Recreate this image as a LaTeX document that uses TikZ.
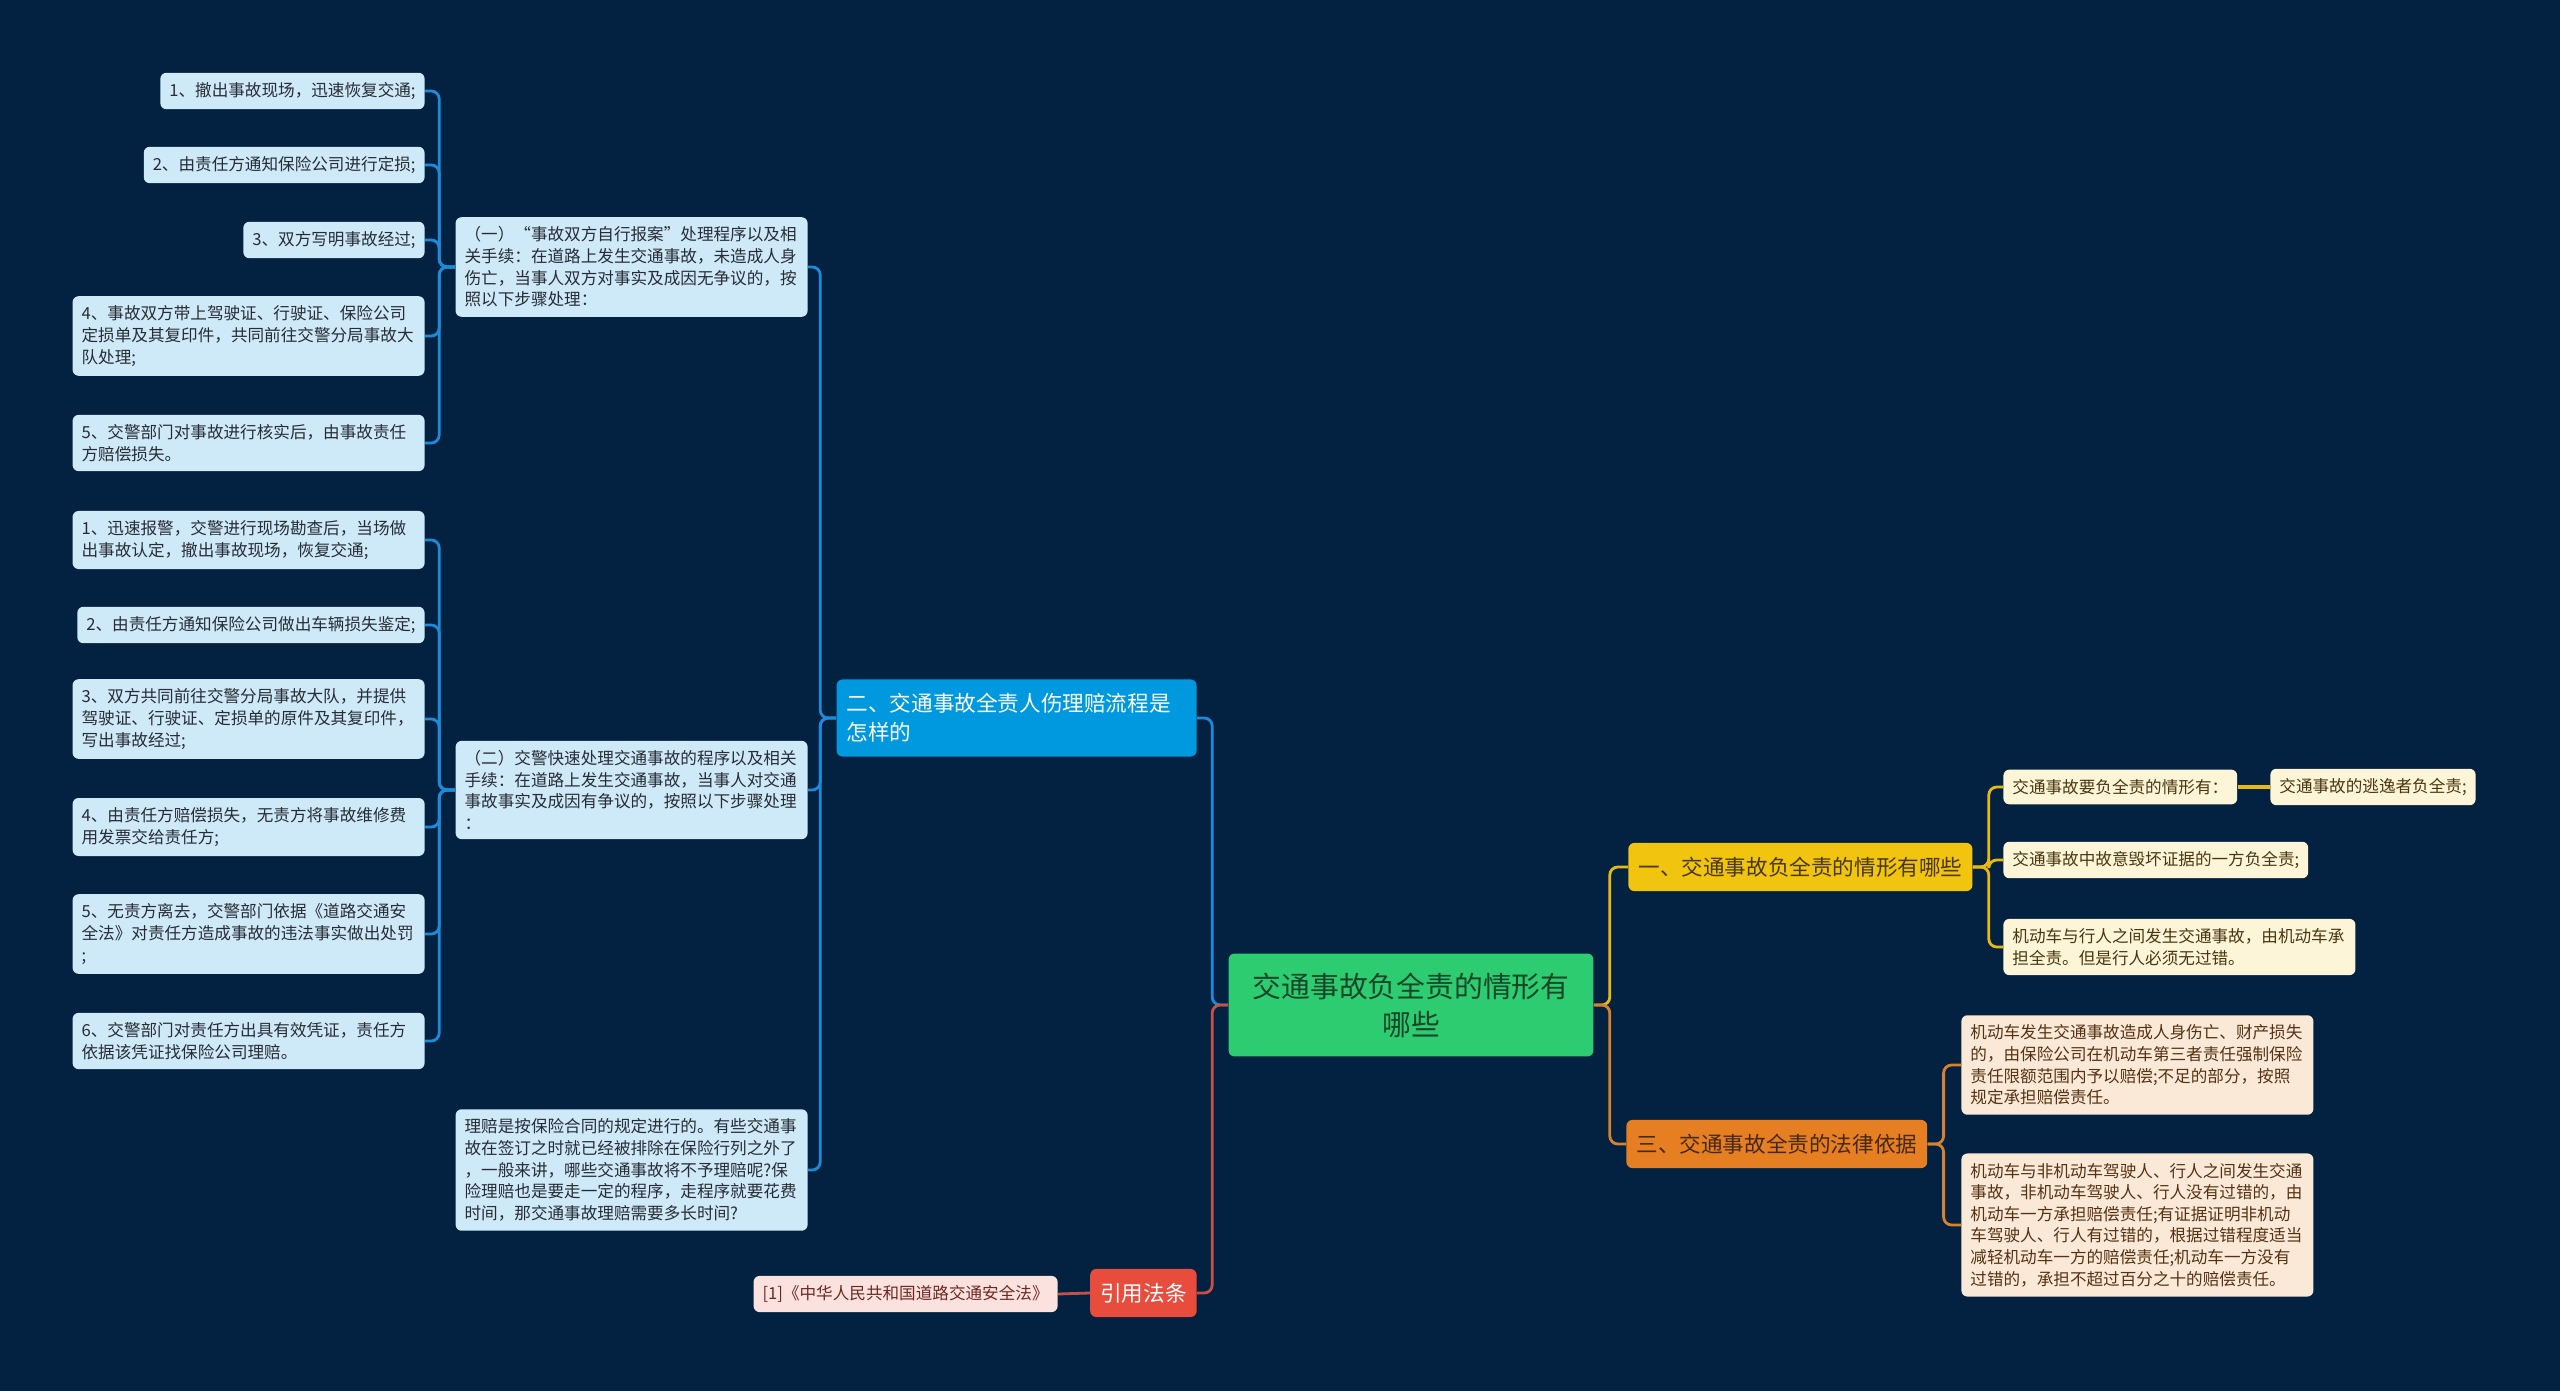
\documentclass[tikz,border=0pt]{standalone}
\usepackage{fontspec}
\newfontfamily\cjk{Noto Sans CJK SC}
\usepackage{tikz}

\definecolor{bgnavy}{RGB}{3,33,64}
\definecolor{leafblue}{RGB}{206,233,247}
\definecolor{headblue}{RGB}{0,152,222}
\definecolor{lineblue}{RGB}{28,139,218}
\definecolor{rootgreen}{RGB}{46,204,113}
\definecolor{rootink}{RGB}{22,70,40}
\definecolor{headred}{RGB}{231,76,60}
\definecolor{linered}{RGB}{200,80,70}
\definecolor{leafpink}{RGB}{252,226,222}
\definecolor{inkpink}{RGB}{110,40,32}
\definecolor{headyellow}{RGB}{241,196,15}
\definecolor{lineyellow}{RGB}{230,185,20}
\definecolor{leafyellow}{RGB}{253,245,215}
\definecolor{inkyellow}{RGB}{72,55,15}
\definecolor{headorange}{RGB}{230,126,34}
\definecolor{lineorange}{RGB}{217,130,45}
\definecolor{leaforange}{RGB}{251,233,215}
\definecolor{inkorange}{RGB}{85,50,20}
\definecolor{inkdark}{RGB}{40,44,52}

\begin{document}
\begin{tikzpicture}[x=0.5pt,y=-0.5pt,
    box/.style={rounded corners=3pt, inner xsep=4.5pt, inner ysep=4.8pt, align=left,
      font=\cjk\fontsize{8.3}{10.8}\selectfont, text=inkdark},
    leafb/.style={box, fill=leafblue},
    leafy/.style={box, fill=leafyellow, text=inkyellow},
    leafo/.style={box, fill=leaforange, text=inkorange},
    wide/.style={text width=167pt},
    head/.style={rounded corners=3pt, inner xsep=5pt, inner ysep=7pt, align=left,
      font=\cjk\fontsize{10.8}{14.5}\selectfont},
    rootbox/.style={rounded corners=3pt, inner xsep=12pt, inner ysep=9.5pt, align=center,
      fill=rootgreen, text=rootink, font=\cjk\fontsize{14.4}{19}\selectfont},
    link/.style={line width=1.4pt, rounded corners=4pt}]
  \fill[bgnavy] (0,0) rectangle (2560,1391);
  \useasboundingbox (0,0) rectangle (2560,1391);

  \node[rootbox] (root) at (1411,1005) {交通事故负全责的情形有\\哪些};

  \node[head, fill=headblue, text=white, text width=170pt, anchor=east] (b1) at (1197,718) {二、交通事故全责人伤理赔流程是\\怎样的};
  \node[head, fill=headred, text=white, anchor=east] (r1) at (1197,1293) {引用法条};
  \node[box, fill=leafpink, text=inkpink, anchor=east] (p1) at (1058,1294) {[1]《中华人民共和国道路交通安全法》};
  \node[head, fill=headyellow, text=inkyellow, anchor=west] (y1) at (1628,867) {一、交通事故负全责的情形有哪些};
  \node[head, fill=headorange, text=inkorange!80!black, anchor=west] (o1) at (1626,1144) {三、交通事故全责的法律依据};

  \node[leafb, wide, anchor=east] (m1) at (808,267) {（一）“事故双方自行报案”处理程序以及相\\关手续：在道路上发生交通事故，未造成人身\\伤亡，当事人双方对事实及成因无争议的，按\\照以下步骤处理：};
  \node[leafb, wide, anchor=east] (m2) at (808,790) {（二）交警快速处理交通事故的程序以及相关\\手续：在道路上发生交通事故，当事人对交通\\事故事实及成因有争议的，按照以下步骤处理\\：};
  \node[leafb, wide, anchor=east] (m3) at (808,1170) {理赔是按保险合同的规定进行的。有些交通事\\故在签订之时就已经被排除在保险行列之外了\\，一般来讲，哪些交通事故将不予理赔呢?保\\险理赔也是要走一定的程序，走程序就要花费\\时间，那交通事故理赔需要多长时间?};

  \node[leafb, anchor=east] (l11) at (425,91) {1、撤出事故现场，迅速恢复交通;};
  \node[leafb, anchor=east] (l12) at (425,165) {2、由责任方通知保险公司进行定损;};
  \node[leafb, anchor=east] (l13) at (425,240) {3、双方写明事故经过;};
  \node[leafb, wide, anchor=east] (l14) at (425,336) {4、事故双方带上驾驶证、行驶证、保险公司\\定损单及其复印件，共同前往交警分局事故大\\队处理;};
  \node[leafb, wide, anchor=east] (l15) at (425,443) {5、交警部门对事故进行核实后，由事故责任\\方赔偿损失。};

  \node[leafb, wide, anchor=east] (l21) at (425,540) {1、迅速报警，交警进行现场勘查后，当场做\\出事故认定，撤出事故现场，恢复交通;};
  \node[leafb, anchor=east] (l22) at (425,625) {2、由责任方通知保险公司做出车辆损失鉴定;};
  \node[leafb, wide, anchor=east] (l23) at (425,719) {3、双方共同前往交警分局事故大队，并提供\\驾驶证、行驶证、定损单的原件及其复印件，\\写出事故经过;};
  \node[leafb, wide, anchor=east] (l24) at (425,827) {4、由责任方赔偿损失，无责方将事故维修费\\用发票交给责任方;};
  \node[leafb, wide, anchor=east] (l25) at (425,934) {5、无责方离去，交警部门依据《道路交通安\\全法》对责任方造成事故的违法事实做出处罚\\;};
  \node[leafb, wide, anchor=east] (l26) at (425,1041) {6、交警部门对责任方出具有效凭证，责任方\\依据该凭证找保险公司理赔。};

  \node[leafy, anchor=west] (ya) at (2003,787) {交通事故要负全责的情形有：};
  \node[leafy, anchor=west] (yb) at (2270,787) {交通事故的逃逸者负全责;};
  \node[leafy, anchor=west] (yc) at (2003,860) {交通事故中故意毁坏证据的一方负全责;};
  \node[leafy, wide, anchor=west] (yd) at (2003,947) {机动车与行人之间发生交通事故，由机动车承\\担全责。但是行人必须无过错。};

  \node[leafo, wide, anchor=west] (oa) at (1961,1065) {机动车发生交通事故造成人身伤亡、财产损失\\的，由保险公司在机动车第三者责任强制保险\\责任限额范围内予以赔偿;不足的部分，按照\\规定承担赔偿责任。};
  \node[leafo, wide, anchor=west] (ob) at (1961,1225) {机动车与非机动车驾驶人、行人之间发生交通\\事故，非机动车驾驶人、行人没有过错的，由\\机动车一方承担赔偿责任;有证据证明非机动\\车驾驶人、行人有过错的，根据过错程度适当\\减轻机动车一方的赔偿责任;机动车一方没有\\过错的，承担不超过百分之十的赔偿责任。};

  \draw[link, lineblue] (root.west) -- ++(-16,0) |- (b1.east);
  \draw[link, linered] (root.west) -- ++(-16,0) |- (r1.east);
  \draw[link, linered] (r1.west) -- (p1.east);
  \draw[link, lineyellow] (root.east) -- ++(16,0) |- (y1.west);
  \draw[link, lineorange] (root.east) -- ++(16,0) |- (o1.west);

  \foreach \m in {m1,m2,m3}
    \draw[link, lineblue] (b1.west) -- ++(-16,0) |- (\m.east);
  \foreach \l in {l11,l12,l13,l14,l15}
    \draw[link, lineblue] (m1.west) -- ++(-16,0) |- (\l.east);
  \foreach \l in {l21,l22,l23,l24,l25,l26}
    \draw[link, lineblue] (m2.west) -- ++(-16,0) |- (\l.east);

  \foreach \l in {ya,yc,yd}
    \draw[link, lineyellow] (y1.east) -- ++(16,0) |- (\l.west);
  \draw[link, lineyellow, line width=2.2pt] (ya.east) -- (yb.west);
  \foreach \l in {oa,ob}
    \draw[link, lineorange] (o1.east) -- ++(16,0) |- (\l.west);
\end{tikzpicture}
\end{document}
